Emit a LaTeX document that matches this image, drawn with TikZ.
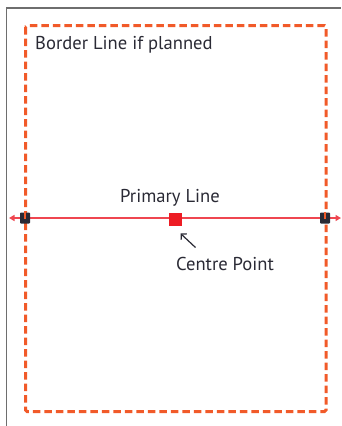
\documentclass[tikz,border=0pt]{standalone}
\usepackage{fontspec}
\setmainfont{PT Sans}
\usetikzlibrary{arrows.meta}
\definecolor{frameg}{HTML}{6E6E6E}
\definecolor{dashor}{HTML}{F15A29}
\definecolor{lred}{HTML}{EF4650}
\definecolor{sqred}{HTML}{ED1C24}
\definecolor{txt}{HTML}{2A2A35}
\tikzset{
  frameline/.style={draw=frameg, line width=1.6pt},
  borderdash/.style={draw=dashor, line width=3pt, dash pattern=on 7.5pt off 4pt, rounded corners=1.5pt},
  primary/.style={draw=lred, line width=1.4pt, {Triangle[length=5.5pt,width=6pt,fill=lred]}-{Triangle[length=5.5pt,width=6pt,fill=lred]}},
  blacksq/.style={draw=none, fill=txt, minimum width=10pt, minimum height=11pt, inner sep=0pt, rounded corners=0.8pt},
  redsq/.style={draw=none, fill=sqred, minimum size=13pt, inner sep=0pt},
  lbl/.style={text=txt, font=\fontsize{18.6}{20}\selectfont, inner sep=0pt},
  pointer/.style={draw=txt, line width=1.2pt, -{Straight Barb[length=4pt,width=8pt]}}
}
\begin{document}
\begin{tikzpicture}[x=1pt,y=-1pt]
\useasboundingbox (0,0) rectangle (341,426);
% outer frame
\coordinate (fbl) at (6.5,426);
\coordinate (ftl) at (6.5,8);
\coordinate (ftr) at (341,8);
\draw[frameline] (fbl) -- (ftl) -- (ftr);
% dashed border
\draw[borderdash] (25.5,25.5) rectangle (326,411.5);
\node[lbl, anchor=west] (border) at (35,45) {Border Line if planned};
% primary line
\coordinate (la) at (9,218);
\coordinate (ra) at (341,218);
\draw[primary] (la) -- (ra);
\node[blacksq] (ls) at (25,218) {};
\node[blacksq] (rs) at (325,218) {};
\fill[dashor] ([xshift=-1.3pt]ls.north) rectangle ([xshift=1.3pt,yshift=-7pt]ls.north);
\fill[dashor] ([xshift=-1.3pt]rs.north) rectangle ([xshift=1.3pt,yshift=-7pt]rs.north);
\node[redsq] (cp) at (175.5,219) {};
\node[lbl] (plabel) at (170,198) {Primary Line};
\node[lbl] (clabel) at (225,264) {Centre Point};
\coordinate (ptail) at (195.5,247.5);
\coordinate (phead) at (180.5,233.5);
\draw[pointer] (ptail) -- (phead);
\end{tikzpicture}
\end{document}
